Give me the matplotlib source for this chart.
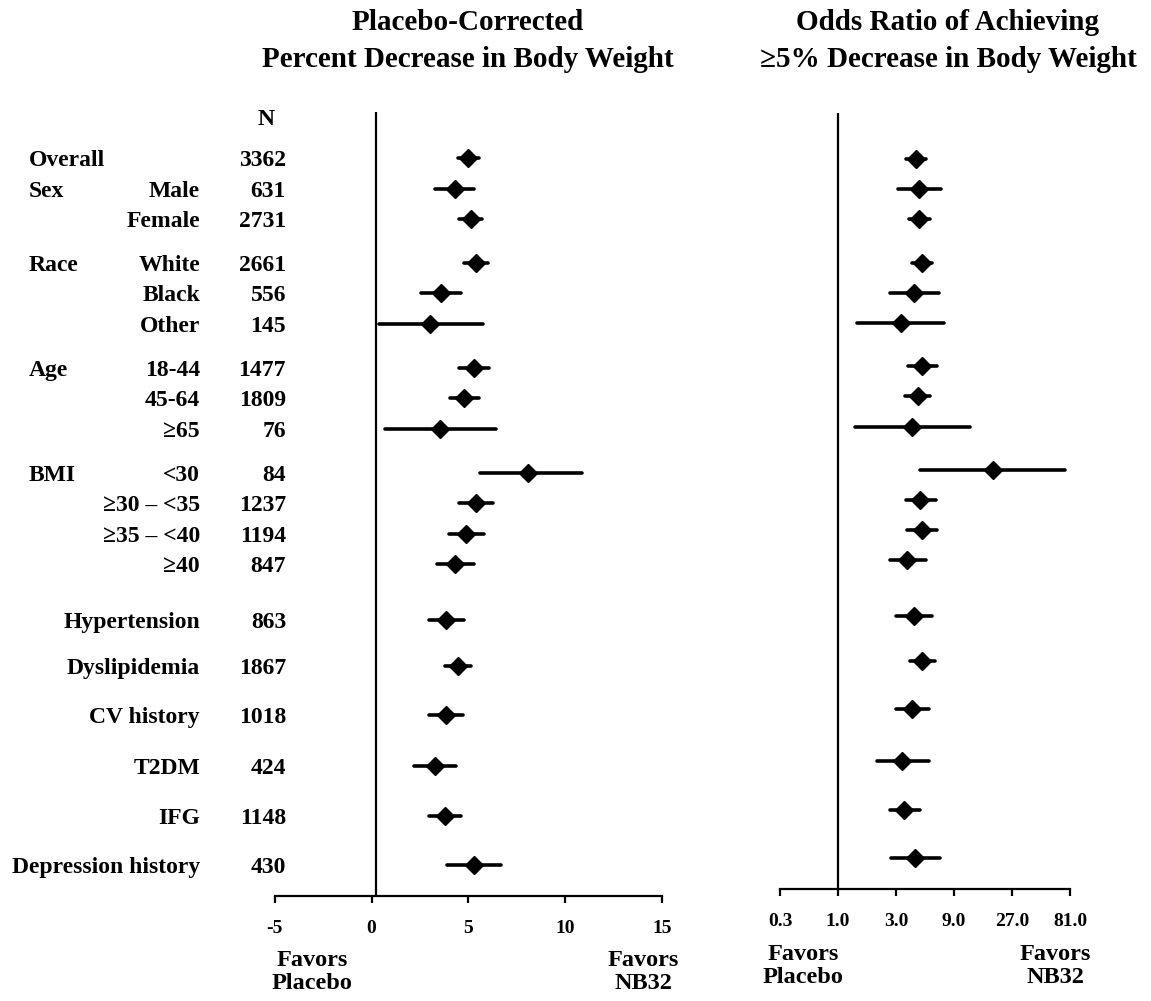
import matplotlib
matplotlib.use("Agg")
import matplotlib.pyplot as plt
from matplotlib.transforms import blended_transform_factory

# --- data ---
groups = ["Overall", "Sex", "", "Race", "", "", "Age", "", "", "BMI", "", "", "",
          "", "", "", "", "", ""]
subgroups = ["", "Male", "Female", "White", "Black", "Other", "18-44", "45-64", "≥65",
             "<30", "≥30 – <35", "≥35 – <40", "≥40", "Hypertension", "Dyslipidemia",
             "CV history", "T2DM", "IFG", "Depression history"]
n_values = [3362, 631, 2731, 2661, 556, 145, 1477, 1809, 76, 84, 1237, 1194, 847,
            863, 1867, 1018, 424, 1148, 430]

pct_est = [4.96, 4.31, 5.13, 5.37, 3.61, 3.01, 5.27, 4.79, 3.56, 8.08, 5.37, 4.88, 4.31,
           3.87, 4.45, 3.87, 3.30, 3.82, 5.31]
pct_lo = [4.45, 3.30, 4.52, 4.77, 2.58, 0.41, 4.52, 4.06, 0.72, 5.61, 4.52, 4.00, 3.37,
          2.96, 3.82, 2.98, 2.19, 2.98, 3.89]
pct_hi = [5.54, 5.29, 5.73, 5.99, 4.64, 5.75, 6.06, 5.54, 6.45, 10.87, 6.25, 5.80, 5.29,
          4.77, 5.15, 4.70, 4.38, 4.64, 6.69]

or_est = [4.37, 4.62, 4.65, 4.90, 4.18, 3.27, 4.90, 4.54, 4.07, 18.8, 4.77, 4.92, 3.70,
          4.20, 4.87, 4.07, 3.39, 3.50, 4.31]
or_lo = [3.66, 3.09, 3.82, 4.03, 2.68, 1.44, 3.75, 3.57, 1.39, 4.77, 3.66, 3.73, 2.68,
         3.00, 3.88, 3.00, 2.11, 2.68, 2.75]
or_hi = [5.28, 7.02, 5.70, 5.95, 6.72, 7.39, 6.51, 5.70, 12.1, 73.4, 6.38, 6.55, 5.28,
         5.95, 6.23, 5.59, 5.59, 4.71, 6.93]

pct_ticks = [-5, 0, 5, 10, 15]
or_ticks = [1 / 3, 1, 3, 9, 27, 81]
or_tick_labels = ["0.3", "1.0", "3.0", "9.0", "27.0", "81.0"]

# --- layout ---
W, H = 1151, 1001
ROW_POS = [0, 1, 2, 3.45, 4.45, 5.45, 6.9, 7.9, 8.9, 10.35, 11.35, 12.35, 13.35,
           15.2, 16.7, 18.3, 20.0, 21.65, 23.25]
YLIM = (24.27, -1.52)
FONT = "Liberation Serif"

plt.rcParams["font.family"] = [FONT, "DejaVu Serif"]
plt.rcParams["font.weight"] = "bold"


def px_box(left, top, right, bottom):
    return [left / W, 1 - bottom / H, (right - left) / W, (bottom - top) / H]


def fx(px):
    return px / W


def fy(py):
    return 1 - py / H


def style_axis(ax):
    for side in ("top", "right", "left"):
        ax.spines[side].set_visible(False)
    ax.spines["bottom"].set_linewidth(1.6)
    ax.set_yticks([])
    ax.set_ylim(*YLIM)
    ax.tick_params(axis="x", direction="out", length=5, width=1.6, pad=12,
                   labelsize=14)
    ax.tick_params(axis="x", which="minor", length=0)
    for lab in ax.get_xticklabels():
        lab.set_fontweight("bold")


def forest(ax, est, lo, hi):
    ax.hlines(ROW_POS, lo, hi, color="black", lw=2.6, capstyle="round", zorder=2)
    ax.plot(est, ROW_POS, "D", color="black", ms=9.5, zorder=3, linestyle="none")


fig = plt.figure(figsize=(W / 100, H / 100), dpi=100, facecolor="white")

# left panel: percent decrease
ax1 = fig.add_axes(px_box(274.7, 112, 662, 896))
forest(ax1, pct_est, pct_lo, pct_hi)
ax1.axvline(0.25, color="black", lw=1.6, zorder=1)
ax1.set_xlim(-5, 15)
ax1.set_xticks(pct_ticks)
ax1.set_xticklabels([str(t) for t in pct_ticks])
style_axis(ax1)

# right panel: odds ratio
ax2 = fig.add_axes(px_box(780, 113, 1070, 889))
forest(ax2, or_est, or_lo, or_hi)
ax2.axvline(1, color="black", lw=1.6, zorder=1)
ax2.set_xscale("log", base=3)
ax2.set_xlim(1 / 3, 81)
ax2.set_xticks(or_ticks)
ax2.set_xticklabels(or_tick_labels)
ax2.minorticks_off()
style_axis(ax2)

# row labels
tr = blended_transform_factory(fig.transFigure, ax1.transData)
lab_kw = dict(fontsize=17, fontweight="bold", va="center_baseline", transform=tr)
for y, g, s, n in zip(ROW_POS, groups, subgroups, n_values):
    if g:
        fig.text(fx(29), y, g, ha="left", **lab_kw)
    if s:
        fig.text(fx(200), y, s, ha="right", **lab_kw)
    fig.text(fx(286), y, str(n), ha="right", **lab_kw)
fig.text(fx(266), -1.34, "N", ha="center", **lab_kw)

# titles
title_kw = dict(fontsize=21, fontweight="bold", ha="center", va="center",
                linespacing=1.45)
fig.text(fx(468), fy(41), "Placebo-Corrected\nPercent Decrease in Body Weight",
         **title_kw)
fig.text(fx(948), fy(41), "Odds Ratio of Achieving\n≥5% Decrease in Body Weight",
         **title_kw)

# favors annotations
fav_kw = dict(fontsize=17.5, fontweight="bold", ha="center", va="center",
              linespacing=1.15)
fig.text(fx(312), fy(972), "Favors\nPlacebo", **fav_kw)
fig.text(fx(643), fy(972), "Favors\nNB32", **fav_kw)
fig.text(fx(803), fy(966), "Favors\nPlacebo", **fav_kw)
fig.text(fx(1055), fy(966), "Favors\nNB32", **fav_kw)

fig.savefig("out.png", dpi=100, facecolor="white")
